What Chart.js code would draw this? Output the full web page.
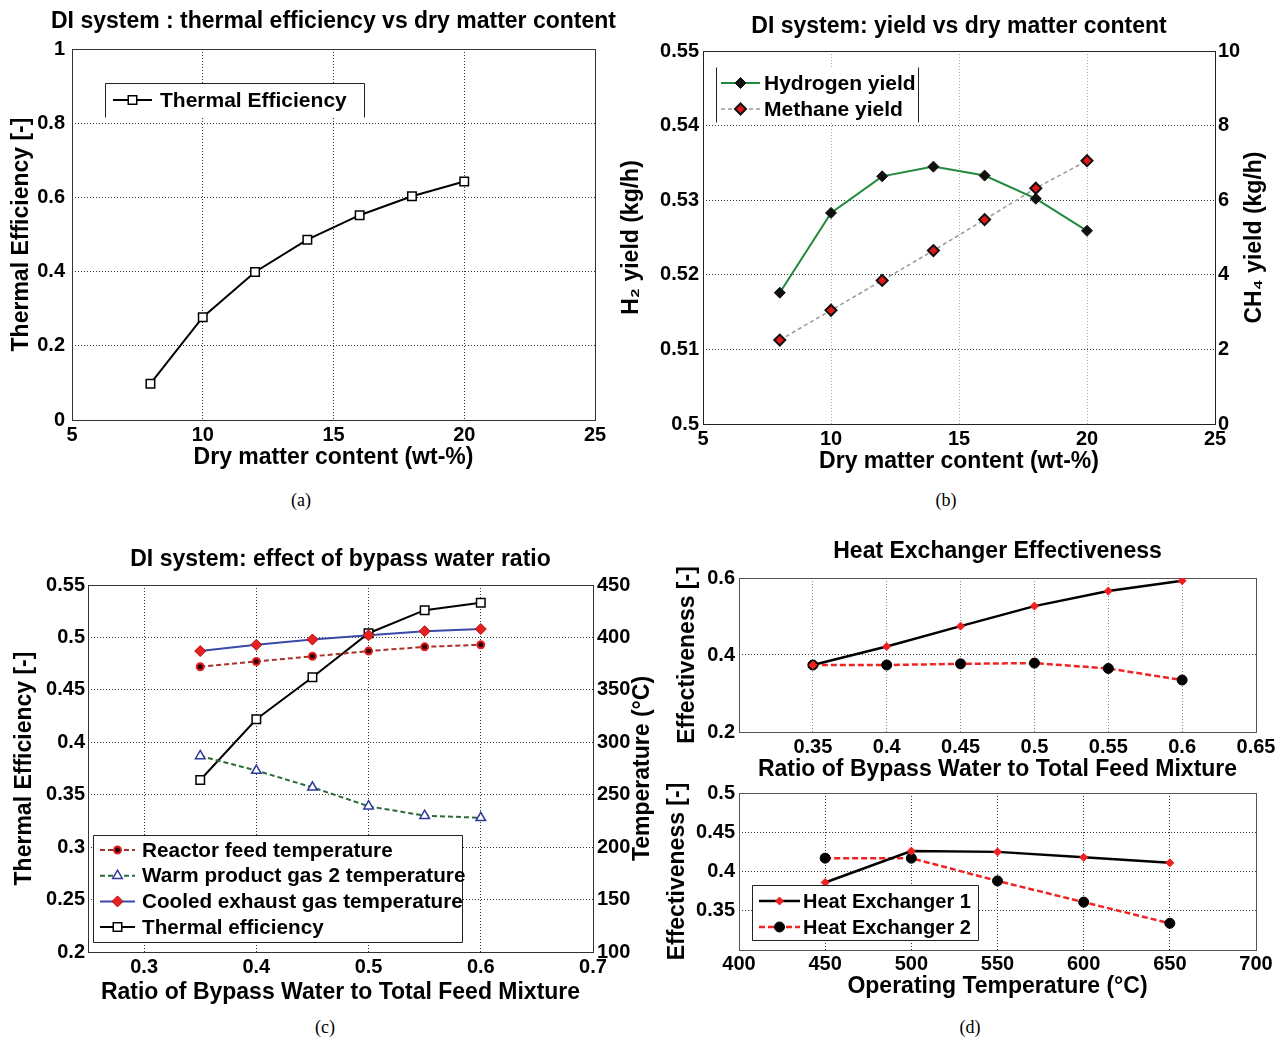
<!DOCTYPE html>
<html><head><meta charset="utf-8">
<script src="https://cdn.jsdelivr.net/npm/chart.js"></script>
<style>
body{margin:0;background:#fff;width:1279px;height:1038px;position:relative;overflow:hidden}
canvas{position:absolute}
.cap{position:absolute;font-family:"Liberation Serif","DejaVu Serif",serif;font-size:18px;color:#000;transform:translate(-50%,-50%)}
</style></head><body>
<canvas id="ca" width="620" height="480" style="left:0;top:0"></canvas>
<canvas id="cb" width="659" height="480" style="left:620px;top:0"></canvas>
<canvas id="cc" width="660" height="480" style="left:0;top:530px"></canvas>
<canvas id="cd1" width="619" height="260" style="left:660px;top:530px"></canvas>
<canvas id="cd2" width="619" height="230" style="left:660px;top:780px"></canvas>
<div class="cap" style="left:301px;top:500px">(a)</div>
<div class="cap" style="left:946px;top:500px">(b)</div>
<div class="cap" style="left:325px;top:1027px">(c)</div>
<div class="cap" style="left:970px;top:1027px">(d)</div>
<script>
// ---------- data ----------
const dryMatter = [8, 10, 12, 14, 16, 18, 20];
const thermalEffA = [0.098, 0.277, 0.399, 0.486, 0.552, 0.603, 0.643];
const hydrogenYield = [0.5176, 0.5283, 0.5332, 0.5345, 0.5333, 0.5302, 0.5259];
const methaneYield = [2.25, 3.05, 3.85, 4.65, 5.48, 6.32, 7.06];

const bypassRatio = [0.35, 0.4, 0.45, 0.5, 0.55, 0.6];
const reactorFeedTemp = [372, 377, 382, 387, 391, 393];
const warmGas2Temp = [287, 273, 257, 239, 230, 228];
const cooledExhaustTemp = [387, 393, 398, 402, 406, 408];
const thermalEffC = [0.364, 0.422, 0.462, 0.504, 0.526, 0.533];

const he1Bypass = [0.374, 0.422, 0.475, 0.527, 0.566, 0.593];
const he2Bypass = [0.374, 0.374, 0.377, 0.379, 0.365, 0.335];

const opTemp = [450, 500, 550, 600, 650];
const he1Temp = [0.386, 0.426, 0.425, 0.418, 0.411];
const he2Temp = [0.417, 0.417, 0.388, 0.361, 0.334];

// tick labels
const aXTicks = [5, 10, 15, 20, 25];
const aYTicks = [0, 0.2, 0.4, 0.6, 0.8, 1];
const bXTicks = [5, 10, 15, 20, 25];
const bYTicks = [0.5, 0.51, 0.52, 0.53, 0.54, 0.55];
const bY2Ticks = [0, 2, 4, 6, 8, 10];
const cXTicks = [0.3, 0.4, 0.5, 0.6, 0.7];
const cYTicks = [0.2, 0.25, 0.3, 0.35, 0.4, 0.45, 0.5, 0.55];
const cY2Ticks = [100, 150, 200, 250, 300, 350, 400, 450];
const d1XTicks = [0.35, 0.4, 0.45, 0.5, 0.55, 0.6, 0.65];
const d1YTicks = [0.2, 0.4, 0.6];
const d2XTicks = [400, 450, 500, 550, 600, 650, 700];
const d2YTicks = [0.35, 0.4, 0.45, 0.5];

// ---------- helpers ----------
const FAM = '"Liberation Sans", Arial, Helvetica, sans-serif';
Chart.defaults.font.family = FAM;
Chart.defaults.color = '#000';
const TICK_FONT = {size: 20, weight: 'bold', lineHeight: '24px'};
const AXIS_FONT = {size: 23, weight: 'bold', lineHeight: '24px'};
const AXIS_FONT_STR = 'bold 23px ' + FAM;
const fmt = v => String(+Number(v).toFixed(3));
const pts = (xs, ys) => xs.map((x, i) => ({x: x, y: ys[i]}));

function fixAxis(size) {
  return function (s) {
    if (s.isHorizontal()) { s.height = size; s.paddingLeft = 0; s.paddingRight = 0; }
    else { s.width = size; s.paddingTop = 0; s.paddingBottom = 0; }
  };
}
function scale(o) {
  return {
    type: 'linear', position: o.pos, min: o.min, max: o.max,
    afterBuildTicks: s => { s.ticks = o.ticks.map(v => ({value: v})); },
    afterFit: fixAxis(o.size),
    ticks: {callback: fmt, padding: o.tpad, font: TICK_FONT, color: '#000', autoSkip: false, maxRotation: 0, minRotation: 0},
    grid: {display: o.grid !== false, drawTicks: false, tickLength: 0, color: o.gridColor || '#333', lineWidth: 1},
    border: {display: false, dash: [1, 2]},
    title: o.title ? {display: true, text: o.title, font: AXIS_FONT, color: '#000',
      padding: {top: o.titlePad, bottom: o.titlePad}} : {display: false}
  };
}

function marker(ctx, ds, x, y) {
  ctx.save();
  ctx.setLineDash([]);
  ctx.fillStyle = ds.pointBackgroundColor;
  ctx.strokeStyle = ds.pointBorderColor;
  ctx.lineWidth = ds.pointBorderWidth;
  if (Chart.helpers && Chart.helpers.drawPoint) {
    Chart.helpers.drawPoint(ctx, {pointStyle: ds.pointStyle, radius: ds.pointRadius, rotation: 0, borderWidth: ds.pointBorderWidth}, x, y);
  } else {
    const r = ds.pointRadius;
    ctx.beginPath();
    if (ds.pointStyle === 'rect') { const s = r * Math.SQRT1_2; ctx.rect(x - s, y - s, 2 * s, 2 * s); }
    else if (ds.pointStyle === 'rectRot') { ctx.moveTo(x, y - r); ctx.lineTo(x + r, y); ctx.lineTo(x, y + r); ctx.lineTo(x - r, y); ctx.closePath(); }
    else if (ds.pointStyle === 'triangle') { ctx.moveTo(x, y - r); ctx.lineTo(x + r * 0.87, y + r * 0.5); ctx.lineTo(x - r * 0.87, y + r * 0.5); ctx.closePath(); }
    else ctx.arc(x, y, r, 0, Math.PI * 2);
    ctx.fill(); ctx.stroke();
  }
  ctx.restore();
}

const framePlugin = {
  id: 'frame',
  beforeDatasetsDraw(chart, args, o) {
    if (!o || !o.show) return;
    const {left, top, right, bottom} = chart.chartArea;
    const ctx = chart.ctx;
    ctx.save();
    ctx.lineWidth = 1;
    ctx.strokeStyle = o.color || '#222';
    ctx.setLineDash([]);
    ctx.strokeRect(left + 0.5, top + 0.5, right - left, bottom - top);
    ctx.restore();
  }
};
const legendPlugin = {
  id: 'boxLegend',
  afterDatasetsDraw(chart, args, o) {
    if (!o || !o.items) return;
    const ctx = chart.ctx;
    ctx.save();
    ctx.fillStyle = '#fff';
    ctx.fillRect(o.x, o.y, o.w, o.h);
    ctx.strokeStyle = o.borderColor || '#222';
    ctx.lineWidth = 1;
    ctx.beginPath();
    const x0 = o.x + 0.5, y0 = o.y + 0.5, x1 = o.x + o.w + 0.5, y1 = o.y + o.h + 0.5;
    if (o.sides.includes('t')) { ctx.moveTo(x0, y0); ctx.lineTo(x1, y0); }
    if (o.sides.includes('b')) { ctx.moveTo(x0, y1); ctx.lineTo(x1, y1); }
    if (o.sides.includes('l')) { ctx.moveTo(x0, y0); ctx.lineTo(x0, y1); }
    if (o.sides.includes('r')) { ctx.moveTo(x1, y0); ctx.lineTo(x1, y1); }
    ctx.stroke();
    o.items.forEach((idx, i) => {
      const ds = chart.data.datasets[idx];
      const y = o.y + o.firstY + i * o.rowH;
      ctx.save();
      ctx.strokeStyle = ds.borderColor;
      ctx.lineWidth = ds.borderWidth;
      ctx.setLineDash(ds.borderDash || []);
      ctx.beginPath();
      ctx.moveTo(o.x + o.lineX0, y);
      ctx.lineTo(o.x + o.lineX1, y);
      ctx.stroke();
      ctx.restore();
      marker(ctx, ds, o.x + (o.lineX0 + o.lineX1) / 2, y);
      ctx.fillStyle = '#000';
      ctx.font = 'bold ' + (o.fontSize || 21) + 'px ' + FAM;
      ctx.textAlign = 'left';
      ctx.textBaseline = 'middle';
      ctx.fillText(ds.label, o.x + o.textX, y + 1);
    });
    ctx.restore();
  }
};
const sideTitlePlugin = {
  id: 'sideTitle',
  afterDraw(chart, args, o) {
    if (!o || !o.text) return;
    const ctx = chart.ctx;
    const ca = chart.chartArea;
    ctx.save();
    ctx.translate(o.x, (ca.top + ca.bottom) / 2);
    ctx.rotate(-Math.PI / 2);
    ctx.font = AXIS_FONT_STR;
    ctx.fillStyle = '#000';
    ctx.textAlign = 'center';
    ctx.textBaseline = 'middle';
    ctx.fillText(o.text, 0, 0);
    ctx.restore();
  }
};
const freeTitlePlugin = {
  id: 'freeTitle',
  afterDraw(chart, args, o) {
    if (!o || !o.text) return;
    const ctx = chart.ctx;
    const ca = chart.chartArea;
    ctx.save();
    ctx.font = AXIS_FONT_STR;
    ctx.fillStyle = '#000';
    ctx.textAlign = 'center';
    ctx.textBaseline = 'middle';
    ctx.fillText(o.text, (ca.left + ca.right) / 2, o.y);
    ctx.restore();
  }
};
Chart.register(framePlugin, legendPlugin, sideTitlePlugin, freeTitlePlugin);

function titleOpt(text, top, bottom) {
  return {display: !!text, text: text, fullSize: false, color: '#000',
    font: {size: 23, weight: 'bold', lineHeight: '24px'}, padding: {top: top, bottom: bottom}};
}
const base = {responsive: false, animation: false, devicePixelRatio: 1, events: []};

// ---------- (a) ----------
new Chart(document.getElementById('ca'), {
  type: 'line',
  data: {datasets: [{
    label: 'Thermal Efficiency', data: pts(dryMatter, thermalEffA),
    borderColor: '#000', borderWidth: 2, pointStyle: 'rect', pointRadius: 6,
    pointBackgroundColor: '#fff', pointBorderColor: '#000', pointBorderWidth: 1.5, tension: 0
  }]},
  options: Object.assign({}, base, {
    layout: {padding: {top: 49, left: 0, right: 25, bottom: 0}},
    scales: {
      x: scale({pos: 'bottom', min: 5, max: 25, ticks: aXTicks, size: 60, tpad: 3, title: 'Dry matter content (wt-%)', titlePad: 10}),
      y: scale({pos: 'left', min: 0, max: 1, ticks: aYTicks, size: 72, tpad: 7, title: 'Thermal Efficiency [-]', titlePad: 10})
    },
    plugins: {
      legend: {display: false}, tooltip: {enabled: false},
      title: {display: false},
      freeTitle: {text: 'DI system : thermal efficiency vs dry matter content', y: 22},
      frame: {show: true, color: '#333'},
      boxLegend: {x: 105, y: 83, w: 259, h: 34, sides: 'tlr', items: [0], firstY: 17, rowH: 26, lineX0: 8, lineX1: 47, textX: 55}
    }
  })
});

// ---------- (b) ----------
new Chart(document.getElementById('cb'), {
  type: 'line',
  data: {datasets: [{
    label: 'Hydrogen yield', data: pts(dryMatter, hydrogenYield), yAxisID: 'y',
    borderColor: '#1f8a3c', borderWidth: 2, pointStyle: 'rectRot', pointRadius: 5.5,
    pointBackgroundColor: '#111', pointBorderColor: '#111', pointBorderWidth: 1, tension: 0
  }, {
    label: 'Methane yield', data: pts(dryMatter, methaneYield), yAxisID: 'y2',
    borderColor: '#9a9a9a', borderWidth: 1.5, borderDash: [4, 3], pointStyle: 'rectRot', pointRadius: 5.5,
    pointBackgroundColor: '#e01818', pointBorderColor: '#111', pointBorderWidth: 2, tension: 0
  }]},
  options: Object.assign({}, base, {
    layout: {padding: 0},
    scales: {
      x: scale({pos: 'bottom', min: 5, max: 25, ticks: bXTicks, size: 56, tpad: 3, title: 'Dry matter content (wt-%)', titlePad: 6, gridColor: '#aaa'}),
      y: scale({pos: 'left', min: 0.5, max: 0.55, ticks: bYTicks, size: 83, tpad: 4, title: 'H\u2082 yield (kg/h)', titlePad: 0}),
      y2: scale({pos: 'right', min: 0, max: 10, ticks: bY2Ticks, size: 64, tpad: 3, grid: false})
    },
    plugins: {
      legend: {display: false}, tooltip: {enabled: false},
      title: titleOpt('DI system: yield vs dry matter content', 15, 12),
      frame: {show: true, color: '#222'},
      sideTitle: {text: 'CH\u2084 yield (kg/h)', x: 635},
      boxLegend: {x: 96, y: 67, w: 202, h: 55, sides: 'lr', items: [0, 1], firstY: 16, rowH: 26, lineX0: 5, lineX1: 44, textX: 48}
    }
  })
});

// ---------- (c) ----------
new Chart(document.getElementById('cc'), {
  type: 'line',
  data: {datasets: [{
    label: 'Reactor feed temperature', data: pts(bypassRatio, reactorFeedTemp), yAxisID: 'y2',
    borderColor: '#a8312b', borderWidth: 2, borderDash: [5, 3], pointStyle: 'circle', pointRadius: 3.5,
    pointBackgroundColor: '#300', pointBorderColor: '#e02020', pointBorderWidth: 2, tension: 0
  }, {
    label: 'Warm product gas 2 temperature', data: pts(bypassRatio, warmGas2Temp), yAxisID: 'y2',
    borderColor: '#2e6b3a', borderWidth: 2, borderDash: [5, 3], pointStyle: 'triangle', pointRadius: 5.5,
    pointBackgroundColor: '#fff', pointBorderColor: '#2a3a9a', pointBorderWidth: 1.5, tension: 0
  }, {
    label: 'Cooled exhaust gas temperature', data: pts(bypassRatio, cooledExhaustTemp), yAxisID: 'y2',
    borderColor: '#3a4aa8', borderWidth: 2, pointStyle: 'rectRot', pointRadius: 5.5,
    pointBackgroundColor: '#e82020', pointBorderColor: '#b01010', pointBorderWidth: 1, tension: 0
  }, {
    label: 'Thermal efficiency', data: pts(bypassRatio, thermalEffC), yAxisID: 'y',
    borderColor: '#000', borderWidth: 2, pointStyle: 'rect', pointRadius: 6,
    pointBackgroundColor: '#fff', pointBorderColor: '#000', pointBorderWidth: 1.5, tension: 0
  }]},
  options: Object.assign({}, base, {
    layout: {padding: 0},
    scales: {
      x: scale({pos: 'bottom', min: 0.25, max: 0.7, ticks: cXTicks, size: 58, tpad: 3, title: 'Ratio of Bypass Water to Total Feed Mixture', titlePad: 5}),
      y: scale({pos: 'left', min: 0.2, max: 0.55, ticks: cYTicks, size: 88, tpad: 3, title: 'Thermal Efficiency [-]', titlePad: 13}),
      y2: scale({pos: 'right', min: 100, max: 450, ticks: cY2Ticks, size: 67, tpad: 4, grid: false})
    },
    plugins: {
      legend: {display: false}, tooltip: {enabled: false},
      title: titleOpt('DI system: effect of bypass water ratio', 18, 13),
      frame: {show: true, color: '#333'},
      sideTitle: {text: 'Temperature (\u00B0C)', x: 643},
      boxLegend: {x: 93, y: 305, w: 369, h: 107, sides: 'tlrb', items: [0, 1, 2, 3], firstY: 15, rowH: 25.7, lineX0: 7, lineX1: 42, textX: 49, fontSize: 20.7}
    }
  })
});

// ---------- (d) top ----------
function heSets(xs, y1, y2) {
  return [{
    label: 'Heat Exchanger 1', data: pts(xs, y1),
    borderColor: '#000', borderWidth: 2.5, pointStyle: 'rectRot', pointRadius: 4,
    pointBackgroundColor: '#f02020', pointBorderColor: '#f02020', pointBorderWidth: 1, tension: 0
  }, {
    label: 'Heat Exchanger 2', data: pts(xs, y2),
    borderColor: '#f02424', borderWidth: 2.5, borderDash: [6, 3], pointStyle: 'circle', pointRadius: 5,
    pointBackgroundColor: '#000', pointBorderColor: '#000', pointBorderWidth: 1, tension: 0
  }];
}
new Chart(document.getElementById('cd1'), {
  type: 'line',
  data: {datasets: heSets(bypassRatio, he1Bypass, he2Bypass)},
  options: Object.assign({}, base, {
    layout: {padding: {top: 0, left: 0, right: 23, bottom: 0}},
    scales: {
      x: scale({pos: 'bottom', min: 0.3, max: 0.65, ticks: d1XTicks, size: 58, tpad: 3, title: 'Ratio of Bypass Water to Total Feed Mixture', titlePad: 8, gridColor: '#888'}),
      y: scale({pos: 'left', min: 0.2, max: 0.6, ticks: d1YTicks, size: 79, tpad: 4, title: 'Effectiveness [-]', titlePad: 16})
    },
    plugins: {
      legend: {display: false}, tooltip: {enabled: false},
      title: titleOpt('Heat Exchanger Effectiveness', 10, 14),
      frame: {show: true, color: '#555'}
    }
  })
});

// ---------- (d) bottom ----------
new Chart(document.getElementById('cd2'), {
  type: 'line',
  data: {datasets: heSets(opTemp, he1Temp, he2Temp)},
  options: Object.assign({}, base, {
    layout: {padding: {top: 13, left: 0, right: 23, bottom: 0}},
    scales: {
      x: scale({pos: 'bottom', min: 400, max: 700, ticks: d2XTicks, size: 60, tpad: 2, title: 'Operating Temperature (\u00B0C)', titlePad: 11}),
      y: scale({pos: 'left', min: 0.3, max: 0.5, ticks: d2YTicks, size: 79, tpad: 4, title: 'Effectiveness [-]', titlePad: 6})
    },
    plugins: {
      legend: {display: false}, tooltip: {enabled: false},
      title: {display: false},
      frame: {show: true, color: '#555'},
      boxLegend: {x: 92, y: 105, w: 226, h: 55, sides: 'tlrb', items: [0, 1], firstY: 16, rowH: 26, lineX0: 7, lineX1: 48, textX: 51, fontSize: 20}
    }
  })
});
</script>
</body></html>
